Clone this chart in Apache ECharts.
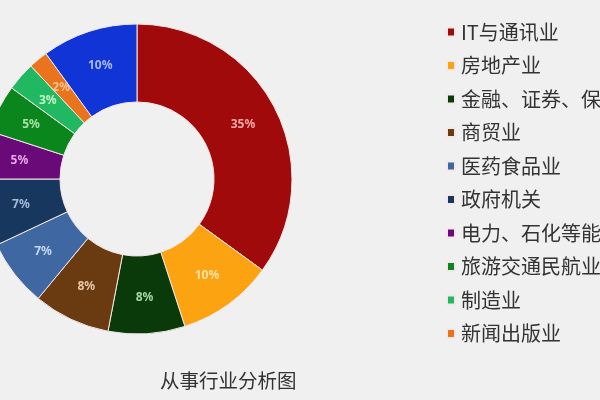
<!DOCTYPE html>
<html><head><meta charset="utf-8">
<script src="https://cdn.jsdelivr.net/npm/echarts@6/dist/echarts.min.js"></script>
<style>html,body{margin:0;padding:0;background:#f0f0f0}#c{width:600px;height:400px}</style>
</head><body><div id="c"></div>
<script>
const categories = ['IT与通讯业','房地产业','金融、证券、保险业','商贸业','医药食品业','政府机关','电力、石化等能源业','旅游交通民航业','制造业','新闻出版业','其他'];
const values = [35,10,8,8,7,7,5,5,3,2,10];
const legendNames = categories.slice(0,10);
const colors = ['#a10a0a','#fca312','#0a3a0a','#6a3a10','#3f68a2','#17375e','#6a0a78','#0a861c','#20b860','#ea741e','#1034d6'];
const labelColors = ['#f4a8a8','#ffe2a8','#a8d4a8','#e8c8a8','#c8d8f0','#a8bcd8','#e8a8e8','#a8e4a8','#c8f4c8','#f8c890','#a8bcf4'];

const chart = echarts.init(document.getElementById('c'));
chart.setOption({
  backgroundColor:'#f0f0f0',
  animation:false,
  title:{text:'从事行业分析图',left:155,top:366,
    textStyle:{fontFamily:'Noto Sans CJK SC',fontSize:19.5,fontWeight:'normal',color:'#333'}},
  legend:{orient:'vertical',left:441,top:17,data:legendNames,icon:'rect',itemWidth:8,itemHeight:9,itemGap:13.5,
    textStyle:{fontFamily:'Noto Sans CJK SC',fontSize:20,color:'#333',lineHeight:20,padding:[0,0,0,1]}},
  series:[{type:'pie',center:[137,179],radius:[77,155],startAngle:90,clockwise:true,
    itemStyle:{borderColor:'#f4e8e8',borderWidth:1},
    label:{position:'inside',formatter:'{c}%',fontSize:12,fontWeight:'bold',fontFamily:'Noto Sans'},
    labelLine:{show:false},
    data:categories.map((n,i)=>({name:n,value:values[i],itemStyle:{color:colors[i]},label:{color:labelColors[i]}}))
  }]
});
</script></body></html>
